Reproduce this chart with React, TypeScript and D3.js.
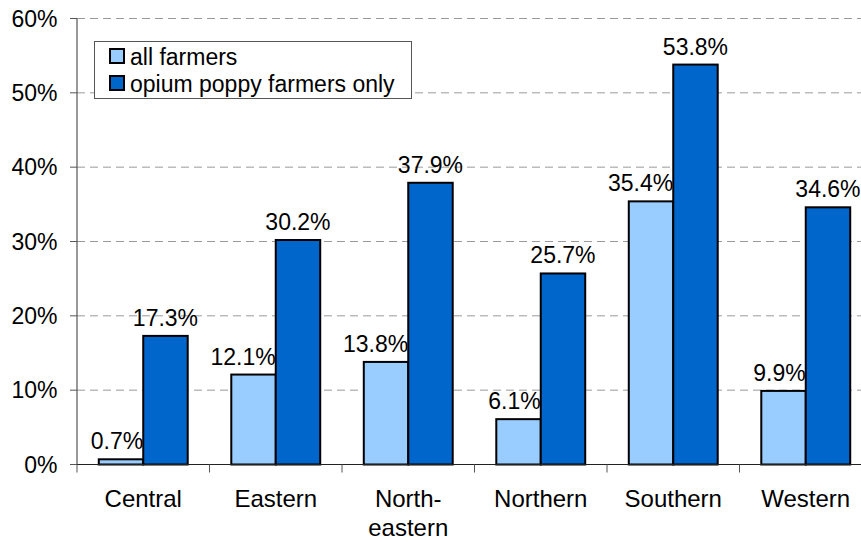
import React from "react";
import * as d3 from "d3";

const categories = ["Central", "Eastern", "North-eastern", "Northern", "Southern", "Western"];
const categoryLines = [["Central"], ["Eastern"], ["North-", "eastern"], ["Northern"], ["Southern"], ["Western"]];
const seriesNames = ["all farmers", "opium poppy farmers only"];
const allFarmers = [0.7, 12.1, 13.8, 6.1, 35.4, 9.9];
const poppyFarmers = [17.3, 30.2, 37.9, 25.7, 53.8, 34.6];
const yTicks = [0, 10, 20, 30, 40, 50, 60];
const colors = ["#99CCFF", "#0066CC"];

const W = 861;
const H = 542;
const FONT = "'Liberation Sans', Arial, Helvetica, sans-serif";
const FS = 23;

export default function App() {
  const left = 77;
  const right = 872;
  const top = 18.5;
  const bottom = 464.5;

  const x0 = d3.scaleBand<string>().domain(categories).range([left, right]).padding(0);
  const x1 = d3
    .scaleBand<string>()
    .domain(seriesNames)
    .range([0, x0.bandwidth()])
    .paddingInner(0)
    .paddingOuter(0.49);
  const y = d3.scaleLinear().domain([0, 60]).range([bottom, top]);

  const values = [allFarmers, poppyFarmers];
  const boundaries = categories.map((c) => x0(c) as number).concat([right]);

  return (
    <svg
      width={W}
      height={H}
      style={{ position: "absolute", left: 0, top: 0, background: "#fff" }}
      fontFamily={FONT}
    >
      {yTicks.filter((t) => t > 0).map((t) => (
        <line
          key={"g" + t}
          x1={left}
          x2={W}
          y1={y(t)}
          y2={y(t)}
          stroke="#9a9a9a"
          strokeWidth={1}
          strokeDasharray="8,5"
        />
      ))}
      {yTicks.map((t) => (
        <g key={"t" + t}>
          <line x1={left - 7} x2={left} y1={y(t)} y2={y(t)} stroke="#555" strokeWidth={1} />
          <text x={57.5} y={y(t)} dy="0.35em" textAnchor="end" fontSize={FS} fill="#000">
            {t + "%"}
          </text>
        </g>
      ))}
      {categories.map((c, i) => (
        <g key={"b" + c} transform={`translate(${x0(c)},0)`}>
          {seriesNames.map((s, si) => {
            const v = values[si][i];
            const bx = x1(s) as number;
            const bw = x1.bandwidth();
            return (
              <rect
                key={s}
                x={bx}
                y={y(v)}
                width={bw}
                height={bottom - y(v)}
                fill={colors[si]}
                stroke="#000"
                strokeWidth={2}
              />
            );
          })}
        </g>
      ))}
      <line x1={left} x2={left} y1={top} y2={bottom} stroke="#555" strokeWidth={1.2} />
      <line x1={left} x2={W} y1={bottom} y2={bottom} stroke="#222" strokeWidth={1.2} />
      {boundaries.map((bx, i) => (
        <line key={"xt" + i} x1={bx} x2={bx} y1={bottom} y2={bottom + 8} stroke="#555" strokeWidth={1} />
      ))}
      {categories.map((c, i) => (
        <g key={"l" + c} transform={`translate(${x0(c)},0)`}>
          {seriesNames.map((s, si) => {
            const v = values[si][i];
            const bx = x1(s) as number;
            const bw = x1.bandwidth();
            const lx = si === 0 ? bx + bw : bx + bw / 2;
            return (
              <text
                key={s}
                x={lx}
                y={y(v) - 10}
                textAnchor={si === 0 ? "end" : "middle"}
                fontSize={FS}
                fill="#000"
              >
                {v.toFixed(1) + "%"}
              </text>
            );
          })}
        </g>
      ))}
      {categories.map((c, i) => (
        <text
          key={"c" + c}
          x={(x0(c) as number) + x0.bandwidth() / 2}
          y={507}
          textAnchor="middle"
          fontSize={24}
          fill="#000"
        >
          {categoryLines[i].map((ln, li) => (
            <tspan key={li} x={(x0(c) as number) + x0.bandwidth() / 2} dy={li === 0 ? 0 : 29}>
              {ln}
            </tspan>
          ))}
        </text>
      ))}
      <g>
        <rect x={94.5} y={41.5} width={317} height={57} fill="#fff" stroke="#555" strokeWidth={1} />
        {seriesNames.map((s, si) => (
          <g key={"lg" + s} transform={`translate(0,${si * 27})`}>
            <rect x={110} y={49} width={14} height={14} fill={colors[si]} stroke="#000" strokeWidth={2} />
            <text x={130} y={65} fontSize={FS} fill="#000">
              {s}
            </text>
          </g>
        ))}
      </g>
    </svg>
  );
}
